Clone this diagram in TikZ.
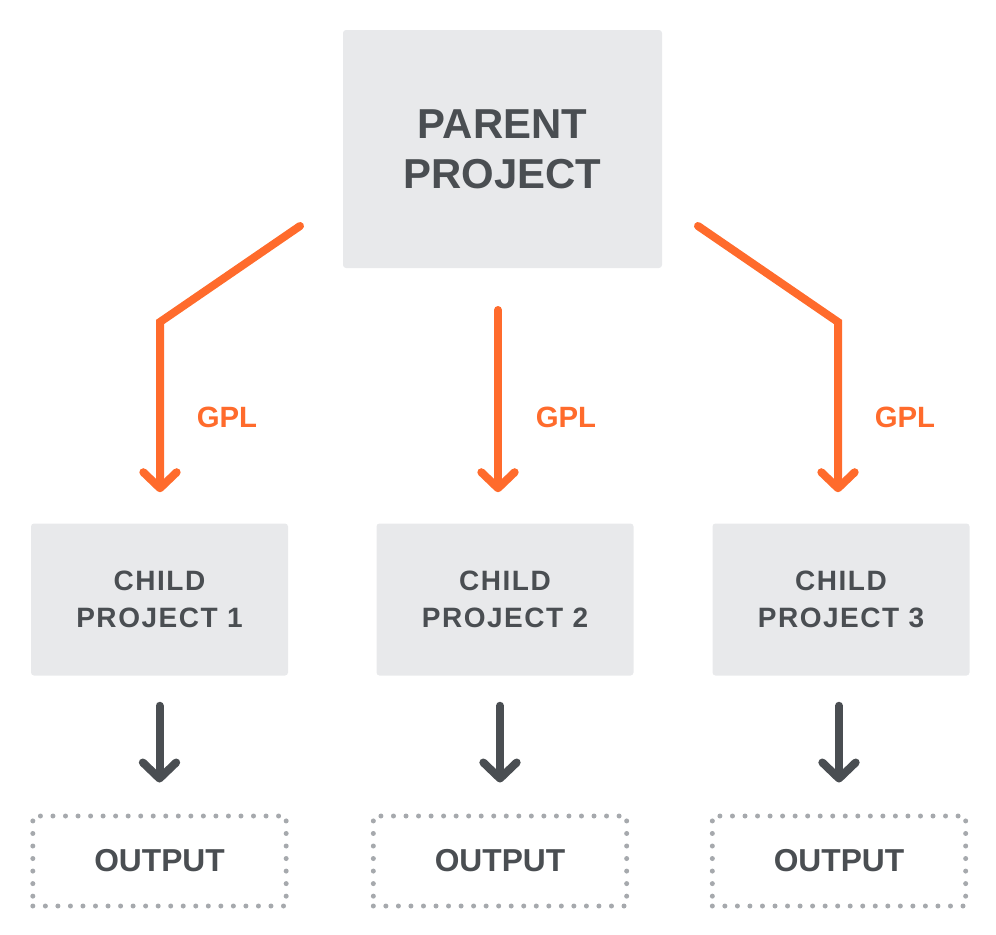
\documentclass[tikz,border=0pt]{standalone}
\usepackage{fontspec}
\setmainfont{Liberation Sans}
\newfontfamily\childfont{Liberation Sans}[LetterSpace=5.5]
\usetikzlibrary{arrows.meta,positioning}
\definecolor{boxgray}{HTML}{E8E9EB}
\definecolor{inkgray}{HTML}{4A4E52}
\definecolor{dotgray}{HTML}{A6A9AD}
\definecolor{gplorange}{HTML}{FF6B2C}
\tikzset{
  projbox/.style={fill=boxgray, rounded corners=2.25pt, text=inkgray, align=center, inner sep=0pt},
  childbox/.style={projbox, minimum width=192.75pt, minimum height=114pt,
    font=\childfont\bfseries\fontsize{21}{27.75}\selectfont},
  outbox/.style={draw=dotgray, line width=3.75pt, line cap=round, dash pattern=on 0pt off 9.4pt,
    minimum width=190pt, minimum height=67.5pt, inner sep=0pt, text=inkgray,
    font=\bfseries\fontsize{23.8}{28}\selectfont},
  gplline/.style={draw=gplorange, line width=6pt, line cap=round,
    -{Straight Barb[round, length=12pt, width=25pt]}, shorten >=23.25pt},
  outline/.style={draw=inkgray, line width=6pt, line cap=round,
    -{Straight Barb[round, length=12pt, width=25pt]}, shorten <=22.5pt, shorten >=23.25pt},
  gpllabel/.style={text=gplorange, font=\bfseries\fontsize{22}{26}\selectfont, inner sep=0pt}
}

\begin{document}
\begin{tikzpicture}[x=0.75pt, y=-0.75pt]
    \useasboundingbox (0,0) rectangle (996,935);
    % boxes
    \node[projbox, minimum width=239.25pt, minimum height=178.5pt,
      font=\bfseries\fontsize{31.4}{37.5}\selectfont] (parent) at (502.5,149) {PARENT\\PROJECT};
    \node[childbox] (child1) at (159.5,599.5) {CHILD\\PROJECT 1};
    \node[childbox] (child2) at (505,599.5) {CHILD\\PROJECT 2};
    \node[childbox] (child3) at (841,599.5) {CHILD\\PROJECT 3};
    \node[outbox] (out1) at (159.5,861) {OUTPUT};
    \node[outbox] (out2) at (500,861) {OUTPUT};
    \node[outbox] (out3) at (839,861) {OUTPUT};
    % licence arrows
    \coordinate (g1a) at (300,226);
    \coordinate (g1b) at (160,322);
    \coordinate (g2a) at (498,310);
    \coordinate (g3a) at (698,226);
    \coordinate (g3b) at (838,322);
    \draw[gplline] (g1a) -- (g1b) -- (g1b |- child1.north);
    \draw[gplline] (g2a) -- (g2a |- child2.north);
    \draw[gplline] (g3a) -- (g3b) -- (g3b |- child3.north);
    \node[gpllabel] (gpl1) at (227,417) {GPL};
    \node[gpllabel] (gpl2) at (566,417) {GPL};
    \node[gpllabel] (gpl3) at (905,417) {GPL};
    % outputs
    \draw[outline] (out1.north |- child1.south) -- (out1.north);
    \draw[outline] (out2.north |- child2.south) -- (out2.north);
    \draw[outline] (out3.north |- child3.south) -- (out3.north);
\end{tikzpicture}
\end{document}
